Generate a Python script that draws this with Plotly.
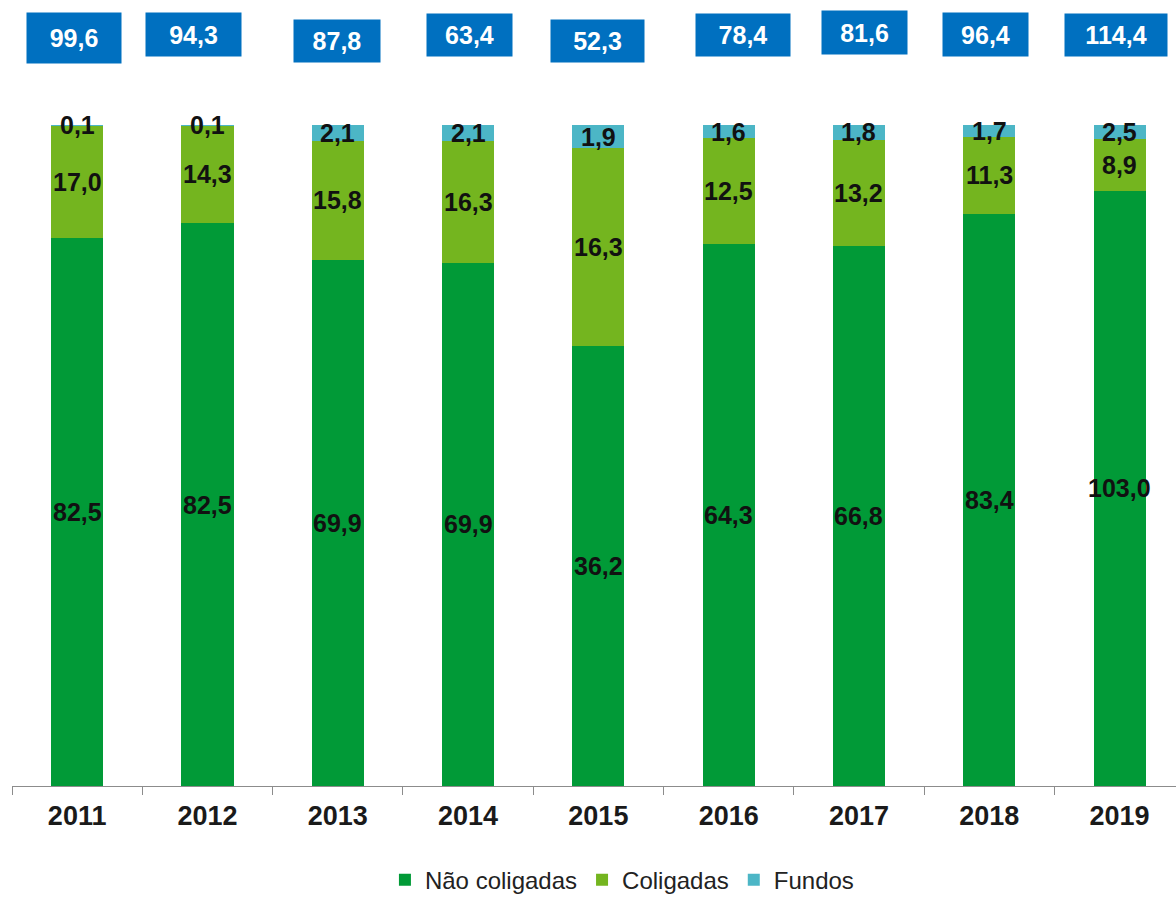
import plotly.graph_objects as go

# Data (R$ bilhões)
anos = ["2011", "2012", "2013", "2014", "2015", "2016", "2017", "2018", "2019"]
nao_coligadas = [82.5, 82.5, 69.9, 69.9, 36.2, 64.3, 66.8, 83.4, 103.0]
coligadas = [17.0, 14.3, 15.8, 16.3, 16.3, 12.5, 13.2, 11.3, 8.9]
fundos = [0.1, 0.1, 2.1, 2.1, 1.9, 1.6, 1.8, 1.7, 2.5]
totais = [99.6, 94.3, 87.8, 63.4, 52.3, 78.4, 81.6, 96.4, 114.4]

series = [
    ("Não coligadas", nao_coligadas, "#019a37"),
    ("Coligadas", coligadas, "#74b51f"),
    ("Fundos", fundos, "#4cb6c6"),
]

# Placement of the blue total boxes: (x shift px, centre y px from top, width, height)
box_layout = [
    (-3, 38, 94, 50),
    (-14, 34.5, 95, 43),
    (-1, 41, 86, 42),
    (1.5, 35, 85, 42),
    (-1, 41, 93, 42),
    (14, 35, 94, 42),
    (6, 32.5, 85, 43),
    (-4, 34.5, 85, 43),
    (-3.5, 35, 102, 42),
]

FONT = "Liberation Sans, Arial, sans-serif"
PLOT_TOP = 125


def fmt(v):
    return f"{v:.1f}".replace(".", ",")


fig = go.Figure()
for nome, vals, cor in series:
    fig.add_trace(go.Bar(
        x=anos, y=vals, name=nome,
        marker=dict(color=cor, line=dict(width=0)),
        hoverinfo="skip",
    ))

# Segment labels at the middle of each stacked piece (percent-normalised)
somas = [sum(s[1][i] for s in series) for i in range(len(anos))]
base = [0.0] * len(anos)
for nome, vals, cor in series:
    for i, v in enumerate(vals):
        meio = (base[i] + v / 2) / somas[i] * 100
        fig.add_annotation(
            x=i, y=meio, xref="x", yref="y",
            text="<b>" + fmt(v) + "</b>", showarrow=False,
            font=dict(family=FONT, size=25, color="#111111"),
        )
        base[i] += v

# Totals in blue boxes above the bars
for i, tot in enumerate(totais):
    dx, yc, w, h = box_layout[i]
    fig.add_annotation(
        x=i, y=1, xref="x", yref="paper",
        xshift=dx, yshift=PLOT_TOP - yc, yanchor="middle",
        text="<b>" + fmt(tot) + "</b>", showarrow=False,
        width=w, height=h, borderpad=0, align="center", valign="middle",
        bgcolor="#0070c0",
        font=dict(family=FONT, size=25, color="white"),
    )

fig.update_layout(
    width=1176, height=898,
    margin=dict(l=12, r=0, t=PLOT_TOP, b=112, pad=0, autoexpand=False),
    paper_bgcolor="white", plot_bgcolor="white",
    barmode="stack", barnorm="percent", bargap=0.6,
    showlegend=True,
    legend=dict(
        orientation="h", x=0.524, xanchor="center",
        yref="container", y=0.02, yanchor="middle",
        traceorder="normal",
        font=dict(family=FONT, size=24, color="#222222"),
        itemwidth=30,
    ),
)
fig.update_xaxes(
    type="category", range=[-0.5, 8.433],
    showline=True, linecolor="#8c8c8c", linewidth=1,
    ticks="outside", tickson="boundaries", ticklen=8, tickcolor="#8c8c8c",
    ticklabelstandoff=6,
    tickfont=dict(family=FONT, size=27, color="#1a1a1a", weight="bold"),
    showgrid=False, zeroline=False,
)
fig.update_yaxes(range=[0, 100], visible=False, showgrid=False)

fig.write_html("out.html")
